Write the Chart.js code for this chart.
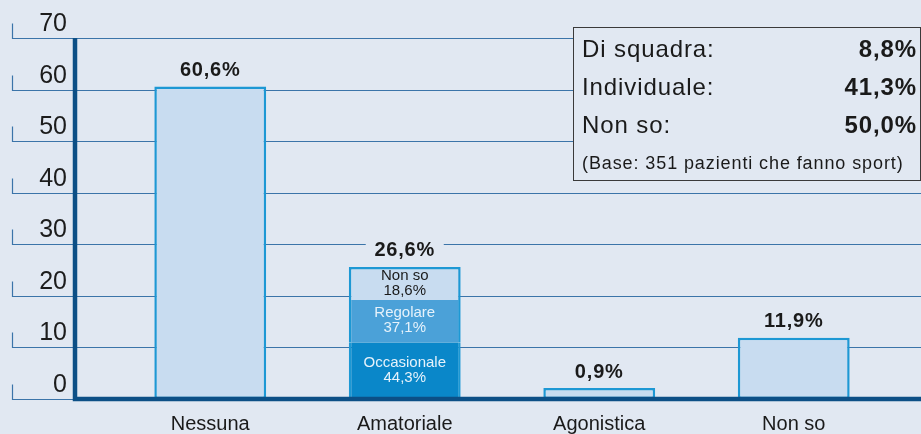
<!DOCTYPE html>
<html>
<head>
<meta charset="utf-8">
<script src="https://cdn.jsdelivr.net/npm/chart.js@4"></script>
<style>
    body { margin: 0; background: #e1e8f2; }
    canvas { display: block; }
</style>
</head>
<body>
<canvas id="grafica" width="921" height="434"></canvas>
<script>
const categorie = ['Nessuna', 'Amatoriale', 'Agonistica', 'Non so'];
const totali = [60.6, null, 0.9, 11.9];
const etichetteTotali = ['60,6%', '26,6%', '0,9%', '11,9%'];

const occasionale = [null, 11.0, null, null];
const regolare = [null, 8.2, null, null];
const nonSoAmatoriale = [null, 6.4, null, null];
const etichetteParti = [['Occasionale', '44,3%'], ['Regolare', '37,1%'], ['Non so', '18,6%']];

const tickY = [0, 10, 20, 30, 40, 50, 60, 70];

const tipoSport = ['Di squadra:', 'Individuale:', 'Non so:'];
const tipoSportValori = ['8,8%', '41,3%', '50,0%'];
const notaBase = '(Base: 351 pazienti che fanno sport)';

const sfondo = '#e1e8f2';
const bordoBarra = '#1d98d4';
const bluScuro = '#0c4f86';
const griglia = '#3b74a9';
const font = "'Liberation Sans', Arial, sans-serif";

const pluginDisegno = {
    id: 'pluginDisegno',
    beforeDatasetsDraw(chart) {
        const ctx = chart.ctx;
        const y = chart.scales.y;
        ctx.save();
        ctx.strokeStyle = griglia;
        ctx.lineWidth = 1.2;
        ctx.fillStyle = '#1c1c1c';
        ctx.font = '25px ' + font;
        ctx.textAlign = 'right';
        ctx.textBaseline = 'middle';
        tickY.forEach(v => {
            const py = Math.round(y.getPixelForValue(v)) + 0.5;
            ctx.beginPath();
            ctx.moveTo(12.5, py - 15);
            ctx.lineTo(12.5, py);
            ctx.lineTo(921, py);
            ctx.stroke();
            ctx.fillText(String(v), 67, py - 14);
        });
        ctx.restore();
    },
    afterDatasetsDraw(chart) {
        const ctx = chart.ctx;
        const x = chart.scales.x;
        const y = chart.scales.y;
        const area = chart.chartArea;
        ctx.save();

        // assi
        ctx.strokeStyle = bluScuro;
        ctx.lineWidth = 4.5;
        ctx.beginPath();
        ctx.moveTo(75, y.getPixelForValue(70));
        ctx.lineTo(75, area.bottom);
        ctx.lineTo(921, area.bottom);
        ctx.stroke();

        // etichette valori sopra le barre
        ctx.textAlign = 'center';
        ctx.textBaseline = 'middle';
        ctx.font = 'bold 20px ' + font;
        ctx.letterSpacing = '0.8px';
        categorie.forEach((c, i) => {
            let top = Infinity;
            chart.data.datasets.forEach((ds, d) => {
                const el = chart.getDatasetMeta(d).data[i];
                if (ds.data[i] != null && el) top = Math.min(top, el.y);
            });
            const px = x.getPixelForValue(i);
            const py = top - 16;
            ctx.fillStyle = sfondo;
            ctx.fillRect(px - 39, py - 11, 78, 22);
            ctx.fillStyle = '#1a1a1a';
            ctx.fillText(etichetteTotali[i], px, py);
        });
        ctx.letterSpacing = '0px';

        // etichette dentro la barra impilata
        ctx.font = '15px ' + font;
        const coloriTesto = ['#e6f2fb', '#e6f2fb', '#1a1a1a'];
        [1, 2, 3].forEach((d, k) => {
            const el = chart.getDatasetMeta(d).data[1];
            const cy = (el.y + el.base) / 2;
            ctx.fillStyle = coloriTesto[k];
            ctx.fillText(etichetteParti[k][0], el.x, cy - 8);
            ctx.fillText(etichetteParti[k][1], el.x, cy + 7);
        });

        // riquadro tipo di sport
        ctx.fillStyle = sfondo;
        ctx.fillRect(573.5, 27.5, 347, 153);
        ctx.strokeStyle = '#3a3a3a';
        ctx.lineWidth = 1;
        ctx.strokeRect(573.5, 27.5, 347, 153);
        ctx.textBaseline = 'middle';
        ctx.fillStyle = '#1a1a1a';
        tipoSport.forEach((t, i) => {
            const py = 50 + i * 38;
            ctx.letterSpacing = '0.9px';
            ctx.textAlign = 'left';
            ctx.font = '24px ' + font;
            ctx.fillText(t, 582, py);
            ctx.textAlign = 'right';
            ctx.font = 'bold 24px ' + font;
            ctx.fillText(tipoSportValori[i], 917, py);
        });
        ctx.textAlign = 'left';
        ctx.font = '18px ' + font;
        ctx.letterSpacing = '0.9px';
        ctx.fillText(notaBase, 582, 164);

        ctx.restore();
    }
};

const ctx = document.getElementById('grafica').getContext('2d');

const myChart = new Chart(ctx, {
    type: 'bar',
    data: {
        labels: categorie,
        datasets: [
            { label: 'Totale', data: totali, backgroundColor: '#c8dcf0', borderColor: bordoBarra, borderWidth: 2.5, minBarLength: 11 },
            { label: 'Occasionale', data: occasionale, backgroundColor: '#0a87c9', borderColor: bordoBarra, borderWidth: { left: 2.5, right: 2.5, top: 0, bottom: 0 } },
            { label: 'Regolare', data: regolare, backgroundColor: '#4ba1d8', borderColor: bordoBarra, borderWidth: { left: 2.5, right: 2.5, top: 0, bottom: 0 } },
            { label: 'Non so', data: nonSoAmatoriale, backgroundColor: '#c8dcf0', borderColor: bordoBarra, borderWidth: { left: 2.5, right: 2.5, top: 2.5, bottom: 0 } }
        ]
    },
    options: {
        responsive: false,
        animation: false,
        layout: { padding: { left: 113, right: 30, top: 38, bottom: 0 } },
        datasets: { bar: { categoryPercentage: 1, barPercentage: 0.575, borderSkipped: false } },
        plugins: {
            legend: { display: false },
            tooltip: { enabled: false }
        },
        scales: {
            x: {
                stacked: true,
                grid: { display: false, drawTicks: false },
                border: { display: false },
                ticks: { color: '#1a1a1a', font: { family: font, size: 20 }, padding: 13 },
                afterFit: s => { s.height = 35; }
            },
            y: {
                display: false,
                stacked: true,
                min: 0,
                max: 70
            }
        }
    },
    plugins: [pluginDisegno]
});
</script>
</body>
</html>
